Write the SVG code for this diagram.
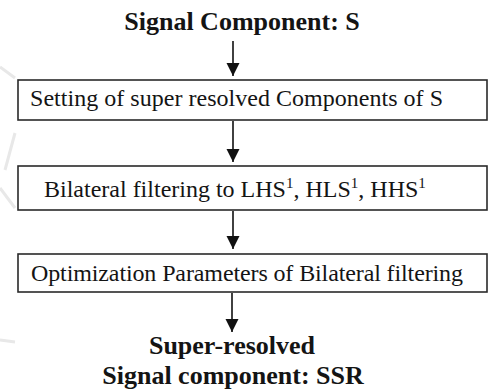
<svg xmlns="http://www.w3.org/2000/svg" width="499" height="391" viewBox="0 0 499 391">
<style>
.box{fill:#fff;stroke:#2a2a2a;stroke-width:1.6}
.t{font-family:"Liberation Serif","Times New Roman",serif;font-size:24px;fill:#141414}
.b{font-family:"Liberation Serif","Times New Roman",serif;font-size:26px;font-weight:bold;fill:#141414;text-anchor:middle}
.c{stroke:#111;stroke-width:1.6;fill:none}
.wm{stroke:#e8e8e8;stroke-width:3;fill:none}
</style>
<defs>
<marker id="ah" markerUnits="userSpaceOnUse" markerWidth="14" markerHeight="17" refX="13" refY="6.5" orient="auto">
<path d="M0,0 L13,6.5 L0,13 Z" fill="#111"/>
</marker>
</defs>
<rect width="499" height="391" fill="#fff"/>
<g id="watermark">
<path class="wm" d="M0,67 L15,78"/>
<path class="wm" d="M15,133 L5,170"/>
<path class="wm" d="M0,188 L15,208"/>
<path class="wm" d="M0,340 L15,342"/>
</g>
<g id="connectors">
<line class="c" x1="233" y1="41" x2="233" y2="76" marker-end="url(#ah)"/>
<line class="c" x1="233" y1="121" x2="233" y2="162" marker-end="url(#ah)"/>
<line class="c" x1="233" y1="211" x2="233" y2="249" marker-end="url(#ah)"/>
<line class="c" x1="232" y1="293" x2="232" y2="332" marker-end="url(#ah)"/>
</g>
<g id="start">
<text class="b" x="242" y="30">Signal Component: S</text>
</g>
<g id="step1">
<rect class="box" x="18" y="80" width="469" height="40"/>
<text class="t" x="30" y="106" textLength="413" lengthAdjust="spacing">Setting of super resolved Components of S</text>
</g>
<g id="step2">
<rect class="box" x="18" y="166" width="469" height="44"/>
<text class="t" x="44" y="197">Bilateral filtering  to LHS<tspan font-size="15" dy="-9">1</tspan><tspan dy="9">, HLS</tspan><tspan font-size="15" dy="-9">1</tspan><tspan dy="9">, HHS</tspan><tspan font-size="15" dy="-9">1</tspan></text>
</g>
<g id="step3">
<rect class="box" x="18" y="254" width="469" height="38"/>
<text class="t" x="31" y="281" textLength="432" lengthAdjust="spacing">Optimization Parameters of Bilateral filtering</text>
</g>
<g id="end">
<text class="b" x="232" y="354">Super-resolved</text>
<text class="b" x="233" y="384">Signal component: SSR</text>
</g>
</svg>
